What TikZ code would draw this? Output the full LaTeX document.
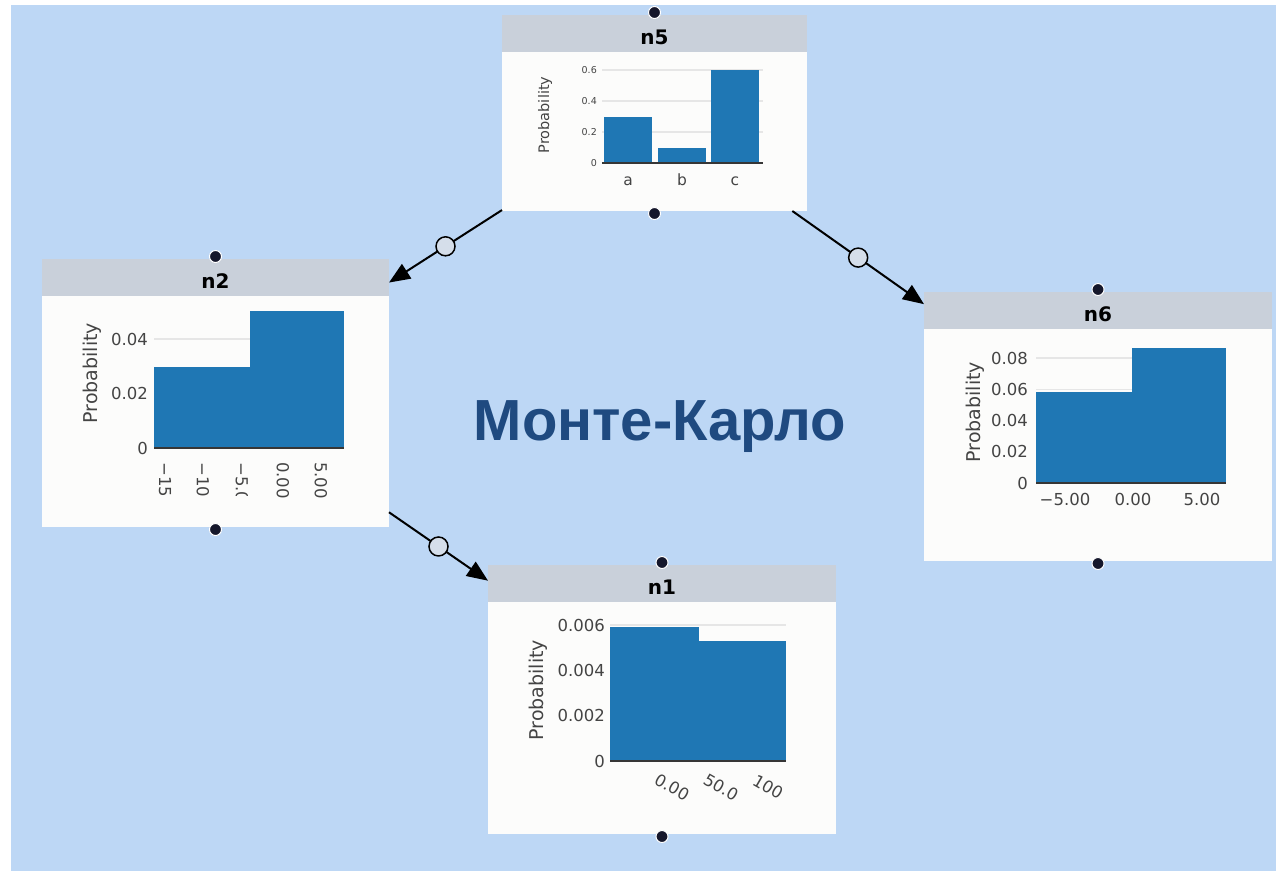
\documentclass[tikz,border=0pt]{standalone}
\usepackage{fontspec}
\setmainfont{DejaVu Sans}
\newfontfamily\chartfont{DejaVu Sans}
\newfontfamily\titlefont{Liberation Sans}
\usetikzlibrary{arrows.meta}
\definecolor{bgblue}{HTML}{BDD7F5}
\definecolor{hdrgray}{HTML}{C9D0DA}
\definecolor{bodywhite}{HTML}{FCFCFB}
\definecolor{barblue}{HTML}{1F77B4}
\definecolor{gridgray}{HTML}{E6E6E6}
\definecolor{ticktext}{HTML}{444444}
\definecolor{titleblue}{HTML}{1F4A80}
\definecolor{dotnavy}{HTML}{15172B}
\definecolor{ringfill}{HTML}{D5DEEA}
\newcommand\setfs[1]{\fontsize{#1pt}{#1pt}\selectfont}
\begin{document}
\begin{tikzpicture}[x=1pt,y=-1pt,
 card/.style={rectangle, fill=bodywhite, inner sep=0pt, outer sep=0pt, anchor=north west},
 hdrtext/.style={font=\chartfont\bfseries\setfs{20}, text=black, anchor=base, inner sep=0pt},
 handle/.style={circle, fill=dotnavy, draw=white, line width=1pt, minimum size=12pt, inner sep=0pt},
 conn/.style={line width=2pt, -{Triangle[length=21pt,width=17pt]}},
 ring/.style={circle, draw=black, fill=ringfill, line width=1.5pt, minimum size=19pt, inner sep=0pt},
 ticklab/.style={font=\chartfont\setfs{16.5}, text=ticktext, anchor=east, inner sep=0pt},
 smalltick/.style={font=\chartfont\setfs{9.5}, text=ticktext, anchor=east, inner sep=0pt},
 ylab/.style={font=\chartfont\setfs{19}, text=ticktext, rotate=90, inner sep=0pt},
 gridln/.style={draw=gridgray, line width=1.5pt},
 axisline/.style={draw=ticktext!80!black, line width=1.5pt},
 barfill/.style={fill=barblue},
]
\useasboundingbox (0,0) rectangle (1276,871);
\fill[white] (0,0) rectangle (1276,871);
\fill[bgblue] (11,5) rectangle (1276,871);

% cards
\node[card, minimum width=305pt, minimum height=196pt] (n5) at (502,15) {};
\node[card, minimum width=347pt, minimum height=268pt] (n2) at (42,259) {};
\node[card, minimum width=348pt, minimum height=269pt] (n6) at (924,292) {};
\node[card, minimum width=348pt, minimum height=269pt] (n1) at (488,565) {};

% headers
\foreach \n in {n5,n2,n6,n1}{
  \fill[hdrgray] (\n.north west) rectangle ([yshift=-36.5pt]\n.north east);
}
\node[hdrtext] (h5) at ([yshift=-29.5pt]n5.north) {n5};
\node[hdrtext] (h2) at ([yshift=-29pt]n2.north) {n2};
\node[hdrtext] (h6) at ([yshift=-29.5pt]n6.north) {n6};
\node[hdrtext] (h1) at ([yshift=-29pt]n1.north) {n1};

% ---- n5 chart
\draw[gridln] (602,70) -- (763,70);
\draw[gridln] (602,101) -- (763,101);
\draw[gridln] (602,132) -- (763,132);
\fill[barfill] (604,116.5) rectangle (652,163);
\fill[barfill] (658,147.5) rectangle (706,163);
\fill[barfill] (711,70) rectangle (759,163);
\draw[axisline] (602,163) -- (763,163);
\node[smalltick] (t5a) at (597,70) {0.6};
\node[smalltick] (t5b) at (597,101) {0.4};
\node[smalltick] (t5c) at (597,132) {0.2};
\node[smalltick] (t5d) at (597,163) {0};
\node[ylab, font=\chartfont\setfs{14.5}] (y5) at (545,115) {Probability};
\node[font=\chartfont\setfs{15.5}, text=ticktext, anchor=base, inner sep=0pt] (c5a) at (628,185) {a};
\node[font=\chartfont\setfs{15.5}, text=ticktext, anchor=base, inner sep=0pt] (c5b) at (682,185) {b};
\node[font=\chartfont\setfs{15.5}, text=ticktext, anchor=base, inner sep=0pt] (c5c) at (735,185) {c};

% ---- n2 chart
\draw[gridln] (154,339) -- (344,339);
\draw[gridln] (154,393.5) -- (344,393.5);
\fill[barfill] (154,367) rectangle (250,448);
\fill[barfill] (250,311) rectangle (344,448);
\draw[axisline] (154,448) -- (344,448);
\node[ticklab] (t2a) at (148,339) {0.04};
\node[ticklab] (t2b) at (148,393.5) {0.02};
\node[ticklab] (t2c) at (148,448) {0};
\node[ylab] (y2) at (92,373) {Probability};
\node[ticklab, anchor=west, rotate=-90] (x2a) at (165,462) {−15};
\node[ticklab, anchor=west, rotate=-90] (x2b) at (203,462) {−10};
\begin{scope}
  \clip (225,455) rectangle (260,495);
  \node[ticklab, anchor=west, rotate=-90] (x2c) at (242,462) {−5.0};
\end{scope}
\node[ticklab, anchor=west, rotate=-90] (x2d) at (283,462) {0.00};
\node[ticklab, anchor=west, rotate=-90] (x2e) at (321,462) {5.00};

% ---- n6 chart
\draw[gridln] (1036,358) -- (1226,358);
\draw[gridln] (1036,389.25) -- (1226,389.25);
\draw[gridln] (1036,420.5) -- (1226,420.5);
\draw[gridln] (1036,451.75) -- (1226,451.75);
\fill[barfill] (1036,392) rectangle (1132,483);
\fill[barfill] (1132,348) rectangle (1226,483);
\draw[axisline] (1036,483) -- (1226,483);
\node[ticklab] (t6a) at (1028,358) {0.08};
\node[ticklab] (t6b) at (1028,389.25) {0.06};
\node[ticklab] (t6c) at (1028,420.5) {0.04};
\node[ticklab] (t6d) at (1028,451.75) {0.02};
\node[ticklab] (t6e) at (1028,483) {0};
\node[ylab] (y6) at (975,412) {Probability};
\node[ticklab, anchor=center] (x6a) at (1065,499.5) {−5.00};
\node[ticklab, anchor=center] (x6b) at (1133,499.5) {0.00};
\node[ticklab, anchor=center] (x6c) at (1202,499.5) {5.00};

% ---- n1 chart
\draw[gridln] (610,625) -- (786,625);
\draw[gridln] (610,670.3) -- (786,670.3);
\draw[gridln] (610,715.7) -- (786,715.7);
\fill[barfill] (610,627) rectangle (699,761);
\fill[barfill] (699,641) rectangle (786,761);
\draw[axisline] (610,761) -- (786,761);
\node[ticklab] (t1a) at (605,625) {0.006};
\node[ticklab] (t1b) at (605,670.3) {0.004};
\node[ticklab] (t1c) at (605,715.7) {0.002};
\node[ticklab] (t1d) at (605,761) {0};
\node[ylab] (y1) at (538,690) {Probability};
\node[ticklab, anchor=center, rotate=-30] (x1a) at (672,787) {0.00};
\node[ticklab, anchor=center, rotate=-30] (x1b) at (721,787) {50.0};
\node[ticklab, anchor=center, rotate=-30] (x1c) at (768,787) {100};

% connectors
\draw[conn] (n5) -- node[ring] (r52) {} (n2);
\draw[conn] (n5) -- node[ring] (r56) {} (n6);
\draw[conn] (n2) -- node[ring] (r21) {} (n1);

% handles
\node[handle] (d5t) at ([yshift=2.5pt]n5.north) {};
\node[handle] (d5b) at ([yshift=-2.5pt]n5.south) {};
\node[handle] (d2t) at ([yshift=2.5pt]n2.north) {};
\node[handle] (d2b) at ([yshift=-2.5pt]n2.south) {};
\node[handle] (d6t) at ([yshift=2.5pt]n6.north) {};
\node[handle] (d6b) at ([yshift=-2.5pt]n6.south) {};
\node[handle] (d1t) at ([yshift=2.5pt]n1.north) {};
\node[handle] (d1b) at ([yshift=-2.5pt]n1.south) {};

% title
\node[font=\titlefont\bfseries\setfs{58}, text=titleblue, anchor=base, inner sep=0pt] (title) at (660,440) {Монте-Карло};
\end{tikzpicture}
\end{document}
